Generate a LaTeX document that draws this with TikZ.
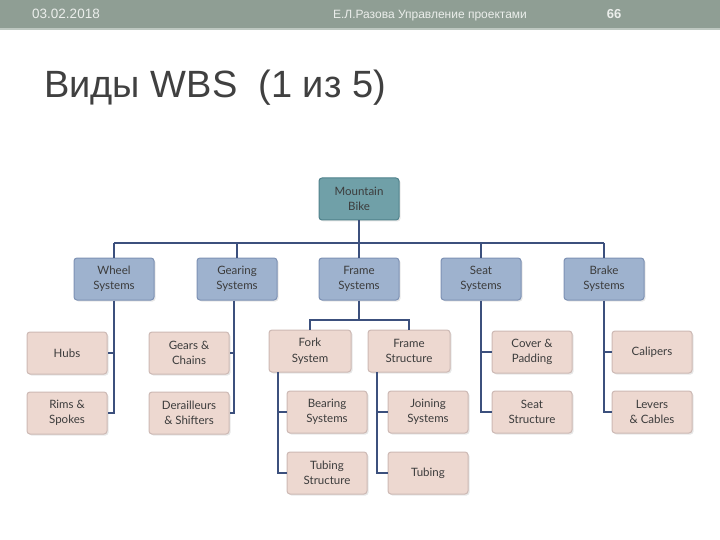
\documentclass[tikz,border=0pt]{standalone}
\usepackage{fontspec}
\setmainfont{Liberation Sans}
\newfontfamily\boxfont{Lato}
\usetikzlibrary{shadows}
\definecolor{hdr}{RGB}{143,158,148}
\definecolor{hdrline}{RGB}{190,200,193}
\definecolor{hdrtext}{RGB}{235,238,235}
\definecolor{titlecol}{RGB}{64,64,64}
\definecolor{conn}{RGB}{60,80,125}
\definecolor{topfill}{RGB}{112,160,168}
\definecolor{topdraw}{RGB}{80,130,140}
\definecolor{midfill}{RGB}{158,178,206}
\definecolor{middraw}{RGB}{125,145,180}
\definecolor{lowfill}{RGB}{237,216,208}
\definecolor{lowdraw}{RGB}{205,185,180}
\definecolor{boxtext}{RGB}{60,60,60}
\tikzset{
  wbsbox/.style={rounded corners=3pt, minimum width=80pt, minimum height=42pt,
    align=center, font=\boxfont\fontsize{11.5}{15.5}\selectfont, text=boxtext, line width=1pt,
    drop shadow={shadow xshift=1.5pt, shadow yshift=-1.5pt, fill=black!18}},
  topbox/.style={wbsbox, fill=topfill, draw=topdraw},
  midbox/.style={wbsbox, fill=midfill, draw=middraw},
  lowbox/.style={wbsbox, fill=lowfill, draw=lowdraw},
  link/.style={draw=conn, line width=2pt},
  hdrtxt/.style={anchor=base, text=hdrtext, font=\fontsize{12}{14}\selectfont}
}
\begin{document}
\begin{tikzpicture}[x=1pt,y=-1pt]
\useasboundingbox (0,0) rectangle (720,540);
\fill[white] (0,0) rectangle (720,540);
\fill[hdr] (0,0) rectangle (720,28);
\fill[hdrline] (0,28) rectangle (720,30);
\node[hdrtxt, font=\fontsize{13.5}{15}\selectfont] (date) at (66,19) {03.02.2018};
\node[hdrtxt] (author) at (430,19) {Е.Л.Разова Управление проектами};
\node[hdrtxt, font=\bfseries\fontsize{13}{15}\selectfont] (page) at (614,19) {66};
\node[anchor=base west, text=titlecol, font=\fontsize{38}{40}\selectfont, inner sep=0pt] (title) at (44,98) {Виды WBS\ \ (1 из 5)};

% level 1
\node[topbox] (mb) at (359,199) {Mountain\\Bike};
% level 2
\node[midbox] (ws) at (114,279) {Wheel\\Systems};
\node[midbox] (gs) at (237,279) {Gearing\\Systems};
\node[midbox] (fs) at (359,279) {Frame\\Systems};
\node[midbox] (ss) at (481,279) {Seat\\Systems};
\node[midbox] (bs) at (604,279) {Brake\\Systems};
% level 3
\node[lowbox] (hubs) at (67,353) {Hubs};
\node[lowbox] (rims) at (67,413) {Rims \&\\Spokes};
\node[lowbox] (gears) at (189,353) {Gears \&\\Chains};
\node[lowbox] (derail) at (189,413) {Derailleurs\\\& Shifters};
\node[lowbox, minimum width=82pt] (fork) at (310,351) {Fork\\System};
\node[lowbox, minimum width=82pt] (fstr) at (409,351) {Frame\\Structure};
\node[lowbox] (bear) at (327,412) {Bearing\\Systems};
\node[lowbox] (tubs) at (327,473) {Tubing\\Structure};
\node[lowbox] (join) at (428,412) {Joining\\Systems};
\node[lowbox] (tub) at (428,473) {Tubing};
\node[lowbox] (cover) at (532,352) {Cover \&\\Padding};
\node[lowbox] (seatstr) at (532,412) {Seat\\Structure};
\node[lowbox] (calip) at (652,352) {Calipers};
\node[lowbox] (levers) at (652,412) {Levers\\\& Cables};

% connectors
\coordinate (busL) at (114,243);
\coordinate (busR) at (604,243);
\coordinate (fb) at (359,320);
\coordinate (forkL) at (278,372);
\coordinate (fstrL) at (377,372);
\path[link] (mb.south) -- (mb.south |- busL);
\path[link] (busL) -- (busR);
\foreach \n in {ws,gs,fs,ss,bs} \path[link] (\n.north) -- (\n.north |- busL);
\path[link] (ws.south) |- (rims.east);
\path[link] (ws.south |- hubs.east) -- (hubs.east);
\path[link] ([xshift=-3pt]gs.south) |- (derail.east);
\path[link] ([xshift=-3pt]gs.south |- gears.east) -- (gears.east);
\path[link] (fs.south) -- (fb);
\path[link] (fork.north) |- (fb) -| (fstr.north);
\path[link] (forkL) |- (tubs.west);
\path[link] (forkL |- bear.west) -- (bear.west);
\path[link] (fstrL) |- (tub.west);
\path[link] (fstrL |- join.west) -- (join.west);
\path[link] (ss.south) |- (seatstr.west);
\path[link] (ss.south |- cover.west) -- (cover.west);
\path[link] (bs.south) |- (levers.west);
\path[link] (bs.south |- calip.west) -- (calip.west);
\end{tikzpicture}
\end{document}
